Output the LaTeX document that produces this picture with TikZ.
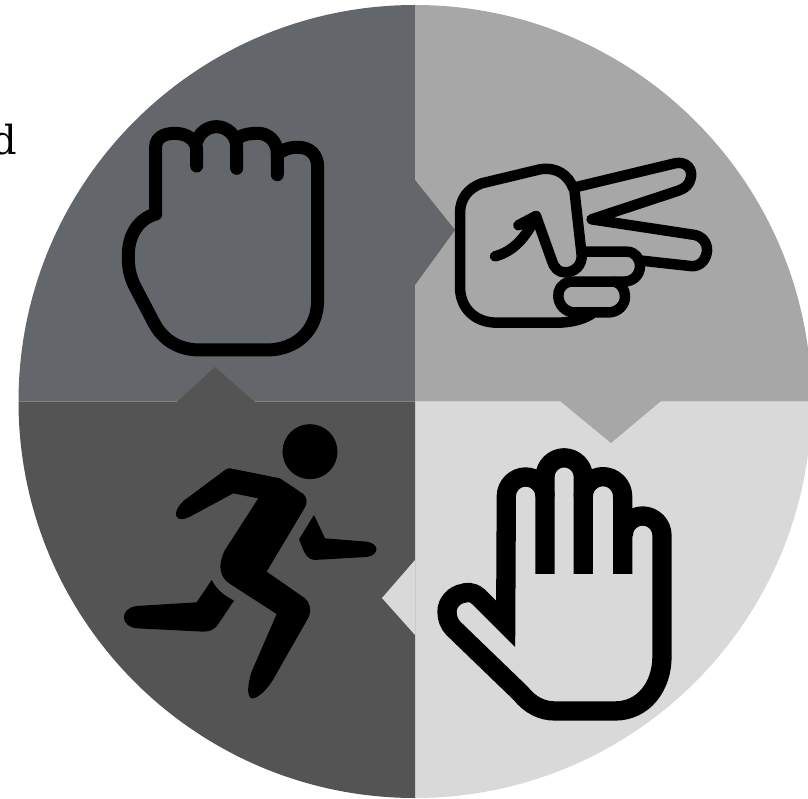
\documentclass[tikz,border=0pt]{standalone}
\usepackage{fontspec}
\setmainfont{DejaVu Serif}
\definecolor{qtl}{HTML}{63666A}
\definecolor{qtr}{HTML}{A7A7A7}
\definecolor{qbr}{HTML}{D9D9D9}
\definecolor{qbl}{HTML}{545454}
\tikzset{
  outline/.style={draw=black,line join=round,line cap=round,fill=none},
  zoomgrid/.style={x=0.3333pt,y=-0.3333pt}
}
\begin{document}
\begin{tikzpicture}[x=1pt,y=-1pt]
\useasboundingbox (0,0) rectangle (808,799);
\begin{scope}
\clip (0,0) rectangle (808,799);
\fill[qtl] (415,401.5) -- (415,5) arc[start angle=90,end angle=180,radius=396.5pt] -- cycle;
\fill[qtr] (415,401.5) -- (415,5) arc[start angle=90,end angle=0,radius=396.5pt] -- cycle;
\fill[qbr] (415,401.5) -- (415,798) arc[start angle=270,end angle=360,radius=396.5pt] -- cycle;
\fill[qbl] (415,401.5) -- (415,798) arc[start angle=270,end angle=180,radius=396.5pt] -- cycle;
\fill[qtl] (415,180) -- (455,230) -- (415,285) -- cycle;
\fill[qtr] (560,401) -- (611,443) -- (661,401) -- cycle;
\fill[qbr] (415,560) -- (382,598) -- (415,635) -- cycle;
\fill[qbl] (177,402) -- (215,367) -- (255,402) -- cycle;
\end{scope}
\node[anchor=base east,inner sep=0pt,font=\fontsize{40}{40}\selectfont] (lbl) at (17.5,155) {d};
% fist
\begin{scope}[shift={(0,100)},zoomgrid]
\draw[outline,line width=13pt] (467,342) -- (467,140) .. controls (467,115) and (490,100) .. (525,100)
  .. controls (560,100) and (590,120) .. (590,150) -- (590,198);
\draw[outline,line width=13pt] (590,125) .. controls (600,95) and (625,80) .. (650,80)
  .. controls (680,80) and (710,105) .. (710,140) -- (710,205);
\draw[outline,line width=13pt] (710,120) .. controls (720,105) and (745,100) .. (775,100)
  .. controls (805,100) and (832,125) .. (832,160) -- (832,224);
\draw[outline,line width=13pt] (832,165) .. controls (845,150) and (865,142) .. (895,142)
  .. controls (930,142) and (953,165) .. (953,200) -- (953,600)
  .. controls (953,690) and (890,750) .. (800,750) -- (600,750)
  .. controls (530,750) and (485,715) .. (460,665) -- (405,560)
  .. controls (385,520) and (385,490) .. (385,465)
  .. controls (385,400) and (420,355) .. (467,342);
\end{scope}
% scissors
\begin{scope}[shift={(410,140)},zoomgrid]
\draw[outline,line width=10.5pt] (490,145) .. controls (475,105) and (440,80) .. (390,88) -- (215,130)
  .. controls (175,145) and (150,175) .. (150,220) -- (150,440)
  .. controls (150,505) and (195,548) .. (260,548) -- (440,548) .. controls (480,548) and (515,540) .. (545,522);
\draw[outline,line width=10.5pt] (378,228) -- (425,360) .. controls (433,385) and (445,397) .. (465,397)
  .. controls (495,397) and (517,375) .. (515,345) -- (492,140);
\draw[outline,line width=10.5pt] (325,256) -- (378,228) .. controls (350,290) and (310,335) .. (255,349);
\draw[outline,line width=10.5pt] (495,142) -- (795,70) .. controls (830,62) and (850,90) .. (842,115)
  .. controls (838,135) and (825,145) .. (805,152) -- (545,238) -- (855,285)
  .. controls (885,292) and (895,320) .. (890,340) .. controls (885,365) and (865,382) .. (840,378) -- (695,362);
\draw[outline,line width=10.5pt] (530,335) -- (650,335) .. controls (675,335) and (690,355) .. (690,378)
  .. controls (690,405) and (670,425) .. (640,425) -- (480,425);
\draw[outline,line width=10.5pt] (480,425) .. controls (455,430) and (443,450) .. (445,470)
  .. controls (447,495) and (465,515) .. (490,517) -- (600,517)
  .. controls (625,515) and (645,495) .. (645,470) .. controls (645,450) and (635,432) .. (615,425);
\end{scope}
% runner
\begin{scope}[shift={(110,410)},zoomgrid]
\fill[black] (600,125) circle[radius=27.5pt];
\fill[black] (360,175) -- (510,205) -- (580,252) .. controls (592,262) and (592,280) .. (585,292)
  -- (470,485) -- (585,565) .. controls (600,578) and (605,600) .. (597,620)
  -- (500,790) .. controls (475,840) and (440,868) .. (425,865) .. controls (410,860) and (412,825) .. (425,785)
  -- (500,612) -- (365,525) .. controls (330,505) and (320,470) .. (345,420)
  -- (445,265) -- (370,250) -- (240,320) .. controls (210,335) and (195,325) .. (198,308)
  .. controls (202,290) and (215,275) .. (235,262) -- (345,180) .. controls (350,176) and (355,175) .. (360,175) -- cycle;
\fill[black] (612,315) -- (645,385) -- (770,395) .. controls (808,400) and (810,435) .. (770,441)
  -- (612,450) .. controls (595,448) and (585,432) .. (580,420) -- (567,388) -- cycle;
\fill[black] (305,510) .. controls (320,540) and (345,558) .. (372,572) -- (325,642)
  .. controls (312,660) and (300,665) .. (280,665) -- (80,655) .. controls (30,650) and (28,595) .. (80,588)
  -- (260,577) -- cycle;
\end{scope}
% open hand
\begin{scope}[shift={(420,430)},zoomgrid]
\draw[draw=black,line width=19.3pt,line join=miter,miter limit=10,line cap=butt,fill=none]
  (375,432) -- (375,199) arc[start angle=0,end angle=180,radius=19.33pt] -- (257,582) -- (175,500)
  .. controls (155,482) and (135,488) .. (130,490) .. controls (100,495) and (81,520) .. (81,545)
  .. controls (81,565) and (88,583) .. (100,595) -- (302,790)
  .. controls (330,825) and (365,843) .. (405,843) -- (585,843)
  .. controls (670,843) and (726,770) .. (726,680) -- (726,316)
  arc[start angle=0,end angle=180,radius=19.33pt];
\draw[draw=black,line width=19.3pt,line cap=butt,line join=round,fill=none]
  (608,432) -- (608,199) arc[start angle=0,end angle=180,radius=19.67pt] -- (490,432);
\draw[draw=black,line width=19.3pt,line cap=butt,line join=round,fill=none]
  (490,200) -- (490,141) arc[start angle=0,end angle=180,radius=19.17pt] -- (375,200);
\end{scope}
\end{tikzpicture}
\end{document}
